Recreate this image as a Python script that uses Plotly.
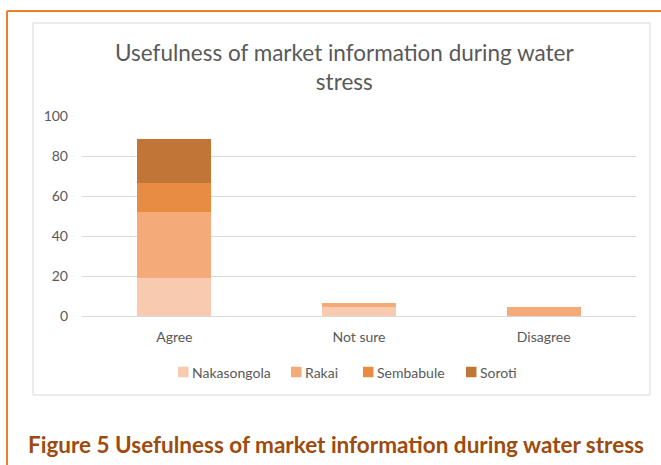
import plotly.graph_objects as go

categories = ["Agree", "Not sure", "Disagree"]
series_names = ["Nakasongola", "Rakai", "Sembabule", "Soroti"]
nakasongola = [19.2, 4.7, 0]
rakai = [33.0, 1.8, 4.7]
sembabule = [14.3, 0, 0]
soroti = [22.0, 0, 0]
colors = ["#F8CBB0", "#F5AA7A", "#E98C43", "#C17536"]
y_ticks = [0, 20, 40, 60, 80, 100]

W, H = 661, 465
L, R, T, B = 82, 636, 116, 316  # plot area in px


def px(x):
    return (x - L) / (R - L)


def py(y):
    return (B - y) / (B - T)


fig = go.Figure()
for name, vals, col in zip(series_names, [nakasongola, rakai, sembabule, soroti], colors):
    fig.add_trace(go.Bar(name=name, x=categories, y=vals, showlegend=False,
                         marker=dict(color=col, line=dict(width=0))))

font_family = "Lato, 'Open Sans', sans-serif"
fs = 14

# legend drawn as shapes + text annotations (Excel-style compact legend)
legend_sq_x = [178, 291, 363, 466]
legend_y = 372
sq = 10.5
shapes = [
    # chart area border
    dict(type="rect", xref="paper", yref="paper", x0=px(33), x1=px(650), y0=py(395), y1=py(23),
         line=dict(color="#D9D9D9", width=1), layer="below"),
    # orange frame
    dict(type="line", xref="paper", yref="paper", x0=px(7), x1=px(W + 5), y0=py(11), y1=py(11),
         line=dict(color="#EE7D2E", width=2)),
    dict(type="line", xref="paper", yref="paper", x0=px(7), x1=px(7), y0=py(11), y1=py(H + 5),
         line=dict(color="#EE7D2E", width=2)),
]
annotations = [
    dict(text="Usefulness of market information during water<br>stress", xref="paper", yref="paper",
         x=px(344), y=py(67), xanchor="center", yanchor="middle", showarrow=False,
         font=dict(size=22.5, color="#595959", family=font_family)),
    dict(text="<b>Figure 5 Usefulness of market information during water stress</b>",
         xref="paper", yref="paper", x=px(26), y=py(444), xanchor="left", yanchor="middle",
         showarrow=False, font=dict(size=22.5, color="#9C4C0C", family=font_family)),
]
for name, col, sx in zip(series_names, colors, legend_sq_x):
    shapes.append(dict(type="rect", xref="paper", yref="paper",
                       x0=px(sx), x1=px(sx + sq), y0=py(legend_y + sq / 2), y1=py(legend_y - sq / 2),
                       fillcolor=col, line=dict(width=0)))
    annotations.append(dict(text=name, xref="paper", yref="paper", x=px(sx + sq + 1), y=py(legend_y),
                            xanchor="left", yanchor="middle", showarrow=False,
                            font=dict(size=fs, color="#595959", family=font_family)))

fig.update_layout(
    width=W, height=H,
    barmode="stack", bargap=0.6,
    paper_bgcolor="white", plot_bgcolor="white",
    margin=dict(l=L, r=W - R, t=T, b=H - B, pad=0, autoexpand=False),
    font=dict(family=font_family, color="#595959", size=fs),
    showlegend=False,
    xaxis=dict(showgrid=False, showline=True, linecolor="#D9D9D9", linewidth=1, automargin=False,
               ticks="", ticklabelstandoff=8, tickfont=dict(size=fs, color="#595959")),
    yaxis=dict(range=[0, 100], tickvals=y_ticks, showgrid=True, gridcolor="#D9D9D9",
               gridwidth=1, zeroline=False, showline=False, ticks="", automargin=False,
               ticklabelstandoff=13, tickfont=dict(size=fs, color="#595959")),
    shapes=shapes,
    annotations=annotations,
)

fig.write_html("out.html", config={"displayModeBar": False},
               post_script="document.body.style.margin='0';")
